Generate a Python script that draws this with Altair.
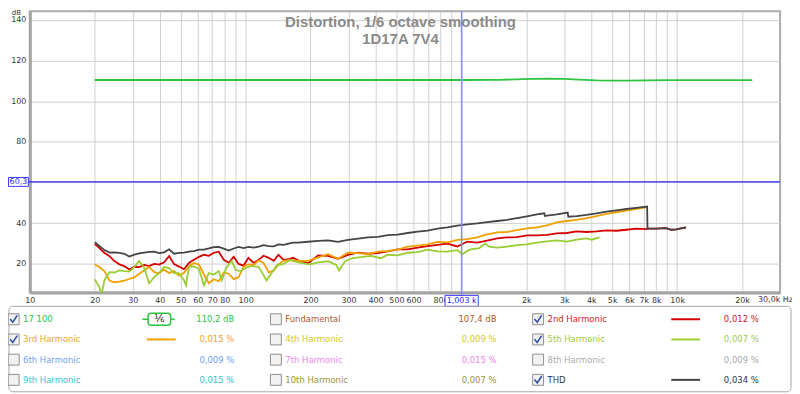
import altair as alt
import pandas as pd

# ---------------- data ----------------
FUND_F = [20, 50, 100, 300, 1000, 1500, 2100, 2500, 2985, 3500, 4233, 5000, 6000, 7200, 9000, 12000, 16000, 22300]
FUND_DB = [110.4, 110.4, 110.4, 110.4, 110.4, 110.5, 110.9, 111.0, 110.9, 110.6, 110.2, 110.1, 110.1, 110.2, 110.3, 110.3, 110.3, 110.3]

LOW_F = [20, 21, 22.2, 23.4, 24.6, 26, 27.4, 28.9, 30.5, 32.1, 33.9, 35.7, 37.7, 39.7, 41.9, 44.2, 46.6, 49.1,
         51.8, 54.6, 57.6, 60.8, 64.1, 67.5, 71.2, 75.1, 79.2, 83.5, 88, 92.8, 97.9, 103, 109, 115, 121, 128,
         135, 142, 150, 158, 166, 175]
MID_F = [195, 217, 241, 268, 298, 332, 369, 410, 456, 507, 564, 627, 697, 775, 862, 958, 1065, 1185, 1317,
         1465, 1629, 1811, 2014, 2239]

THD_F = LOW_F + MID_F + [2420, 2440, 2490, 2769, 3110, 3130, 3424, 3807, 4233, 4707, 5234, 5820, 6471, 7260,
                         7290, 8001, 8897, 9380, 9893, 11000]
THD_DB = [30.7, 28.8, 26.8, 25.6, 25.7, 25.4, 25.0, 23.6, 24.6, 25.2, 25.6, 25.9, 26.0, 25.3, 25.7, 27.2, 25.0,
          25.4, 25.6, 26.0, 26.3, 27.0, 27.0, 27.6, 28.3, 28.4, 27.5, 26.6, 27.6, 28.4, 27.8, 28.4, 28.0, 28.5,
          29.2, 28.8, 28.6, 29.6, 29.4, 30.0, 30.5, 30.5,
          30.9, 31.3, 31.6, 30.8, 31.8, 32.4, 33.0, 33.3, 34.2, 34.4, 35.2, 35.9, 36.4, 37.4, 38.0, 38.8, 39.4,
          39.9, 40.6, 41.1, 41.7, 42.5, 43.4, 44.3,
          44.9, 43.6, 43.7, 44.3, 45.2, 43.2, 43.5, 44.1, 44.9, 45.7, 46.3, 47.0, 47.6, 48.2, 37.4, 37.3, 37.6,
          36.8, 37.0, 38.0]

H2_F = LOW_F + MID_F + [2490, 2769, 3079, 3424, 3807, 4233, 4707, 5234, 5820, 6471, 7196, 7290, 8001, 8897,
                        9380, 9893, 11000]
H2_DB = [29.9, 27.8, 25.4, 23.8, 21.5, 19.8, 18.9, 17.3, 18.6, 18.4, 19.5, 18.9, 20.0, 19.7, 20.8, 23.9, 19.9,
         18.7, 17.4, 20.5, 22.0, 23.5, 24.5, 24.0, 25.5, 26.0, 22.0, 20.6, 23.5, 20.0, 19.2, 23.0, 20.5, 22.0,
         24.0, 23.0, 21.5, 24.5, 22.0, 22.3, 23.0, 21.8,
         20.3, 24.2, 24.0, 22.5, 24.4, 25.6, 25.0, 25.3, 26.2, 27.2, 27.2, 28.0, 28.8, 29.4, 30.0, 28.6, 31.0,
         30.5, 31.5, 32.6, 33.0, 33.2, 34.0, 34.0,
         34.3, 35.0, 35.2, 36.0, 35.7, 36.0, 36.5, 36.3, 36.8, 37.3, 37.1, 37.4, 37.3, 37.6, 36.8, 37.0, 38.0]

H3_F = LOW_F + MID_F + [2490, 2769, 3079, 3424, 3807, 4233, 4707, 5234, 5820, 6471, 7260]
H3_DB = [19.7, 18.5, 16.4, 11.8, 11.0, 11.3, 11.8, 12.6, 13.4, 15.2, 16.8, 18.5, 16.0, 15.4, 17.2, 15.6, 16.5,
         14.2, 15.6, 18.9, 20.5, 19.7, 14.8, 10.5, 12.5, 11.5, 15.8, 15.2, 12.5, 13.5, 18.8, 19.8, 19.5, 21.8,
         20.5, 15.8, 16.8, 19.8, 21.5, 21.8, 21.8, 21.5,
         21.5, 23.2, 24.8, 22.5, 25.5, 25.3, 24.8, 26.0, 26.3, 27.0, 28.5, 29.0, 29.6, 30.8, 30.6, 31.8, 32.2,
         33.0, 34.5, 35.5, 35.7, 36.6, 37.5, 38.0,
         39.0, 40.4, 41.1, 41.6, 42.5, 43.5, 44.6, 45.4, 46.2, 47.0, 47.9]

H5_F = [20, 21, 21.5, 22.2, 23.4, 24.6, 26, 27.4, 28.9, 30.5, 32.1, 33.9, 35.7, 37.7, 39.7, 41.9, 44.2, 46.6,
        49.1, 51.8, 52.9, 54.6, 57.6, 60.8, 64.1, 67.5, 71.2, 75.1, 77.5, 81.8, 86.2, 90.0, 94.8, 100, 106.6,
        115, 121, 125, 132, 139, 150, 161, 172, 185, 199, 217, 241, 263, 271, 289, 315, 342, 381, 423, 456, 507,
        564, 627, 697, 775, 862, 958, 1011, 1089, 1211, 1290, 1346, 1465, 1629, 1811, 2014, 2239, 2490, 2769,
        3079, 3424, 3807, 4015, 4370]
H5_DB = [12.4, 8.5, 5.0, 12.3, 16.0, 15.8, 16.8, 16.5, 16.2, 18.5, 21.5, 18.0, 10.5, 13.5, 15.5, 18.5, 18.0,
         15.5, 15.5, 12.0, 9.5, 18.5, 18.8, 17.5, 9.5, 15.5, 14.8, 16.5, 12.0, 18.5, 21.5, 17.0, 16.5, 18.0,
         19.0, 18.5, 14.5, 11.8, 15.5, 19.2, 20.0, 22.0, 21.0, 20.3, 19.8, 20.8, 21.3, 19.5, 16.8, 21.3, 22.9,
         23.3, 24.0, 22.8, 24.5, 24.2, 25.5, 25.8, 27.0, 26.2, 26.0, 26.8, 24.8, 27.0, 27.8, 30.0, 28.5, 28.0,
         28.5, 29.2, 29.6, 30.5, 31.1, 31.6, 31.0, 31.9, 32.6, 31.9, 33.0]

CURSOR_F = 1003
CURSOR_DB = 60.3
CURSOR_F_LABEL = "1,003 k"
CURSOR_DB_LABEL = "60,3"

TITLE = ["Distortion, 1/6 octave smoothing", "1D17A 7V4"]

GRID_F = [10, 20, 30, 40, 50, 60, 70, 80, 90, 100, 200, 300, 400, 500, 600, 700, 800, 900, 1000,
          2000, 3000, 4000, 5000, 6000, 7000, 8000, 9000, 10000, 20000]
X_LABELS = [(10, "10"), (20, "20"), (30, "30"), (40, "40"), (50, "50"), (60, "60"), (70, "70"), (80, "80"),
            (100, "100"), (200, "200"), (300, "300"), (400, "400"), (500, "500"), (600, "600"), (800, "800"),
            (2000, "2k"), (3000, "3k"), (4000, "4k"), (5000, "5k"), (6000, "6k"), (7000, "7k"), (8000, "8k"),
            (10000, "10k"), (20000, "20k")]
X_END_LABEL = (30000, "30,0k Hz")
Y_TICKS = [20, 40, 60, 80, 100, 120, 140]

LEGEND_LABELS = ["17 100", "Fundamental", "2nd Harmonic", "3rd Harmonic", "4th Harmonic", "5th Harmonic",
                 "6th Harmonic", "7th Harmonic", "8th Harmonic", "9th Harmonic", "10th Harmonic", "THD"]
LEGEND_VALUES = ["110,2 dB", "107,4 dB", "0,012 %", "0,015 %", "0,009 %", "0,007 %", "0,009 %", "0,015 %",
                 "0,009 %", "0,015 %", "0,007 %", "0,034 %"]
LEGEND_TEXT_COLORS = ["#2ec13e", "#a8582e", "#d01818", "#f0a030", "#d2c81a", "#9ccc3c", "#6e9ff0", "#ee86ee",
                      "#a8a8a8", "#35c4d0", "#9c9432", "#333333"]
LEGEND_CHECKED = [True, False, True, True, False, True, False, False, False, False, False, True]
LEGEND_LINES = ["", "", "#d40000", "#f0a000", "", "#9acd32", "", "", "", "", "", "#454545"]
LEGEND_BADGE = ["⅙", "", "", "", "", "", "", "", "", "", "", ""]

COL_FUND = "#2ec440"
COL_H2 = "#d40000"
COL_H3 = "#f0a000"
COL_H5 = "#9acd32"
COL_THD = "#454545"

# ---------------- layout ----------------
W, H = 755, 283
FONT = "DejaVu Sans"

xs = alt.Scale(type="log", domain=[10, 30000], nice=False)
ys = alt.Scale(domain=[6, 144.2], nice=False, zero=False)

x_expr = " : ".join(f"datum.value == {v} ? '{t}'" for v, t in X_LABELS) + " : ''"
common_axis = dict(title=None, grid=True, gridColor="#d0d0d0", gridWidth=1, ticks=False, tickSize=0,
                   labelFont=FONT, labelFontSize=8, labelColor="#333333", domainColor="#a4a4a4",
                   domainWidth=3, labelOverlap=False)
xaxis = alt.Axis(values=GRID_F, labelExpr=x_expr, labelPadding=4, labelFlush=False, **common_axis)
yaxis = alt.Axis(values=Y_TICKS, labelExpr="datum.value == 60 ? '' : datum.label", labelPadding=4,
                 **common_axis)

X = lambda f: alt.X(f, scale=xs, axis=xaxis)
Y = lambda f: alt.Y(f, scale=ys, axis=yaxis)


def curve(fs, dbs, color, width=1.8):
    df = pd.DataFrame({"f": fs, "db": dbs})
    return alt.Chart(df).mark_line(color=color, strokeWidth=width, clip=True).encode(
        x=X("f:Q"), y=Y("db:Q"))


cur = pd.DataFrame({"f": [CURSOR_F], "db": [CURSOR_DB], "flab": [CURSOR_F_LABEL], "dlab": [CURSOR_DB_LABEL]})

vline = alt.Chart(cur).mark_rule(color="#8a8aff", strokeWidth=1.6).encode(
    x=X("f:Q"), y=alt.value(0), y2=alt.value(H + 3))
hline = alt.Chart(cur).mark_rule(color="#2424ee", strokeWidth=1.2).encode(
    y=Y("db:Q"), x=alt.value(-2), x2=alt.value(W))

fbox = alt.Chart(cur).mark_point(shape="M-1,-0.33H1V0.33H-1Z", size=1115, filled=True, fill="white",
                                 stroke="#3a3aff", strokeWidth=1, opacity=1).encode(
    x=X("f:Q"), y=alt.value(H + 8.5))
ftxt = alt.Chart(cur).mark_text(font=FONT, fontSize=8, color="#2020ff", baseline="middle").encode(
    x=X("f:Q"), y=alt.value(H + 9), text="flab:N")
dbox = alt.Chart(cur).mark_point(shape="M-1,-0.45H1V0.45H-1Z", size=400, filled=True, fill="white",
                                 stroke="#3a3aff", strokeWidth=1, opacity=1).encode(
    y=Y("db:Q"), x=alt.value(-11.5))
dtxt = alt.Chart(cur).mark_text(font=FONT, fontSize=8, color="#2020ff", baseline="middle").encode(
    y=Y("db:Q"), x=alt.value(-11.5), text="dlab:N")

title_df = pd.DataFrame({"t": ["\n".join(TITLE)]})
title = alt.Chart(title_df).mark_text(font="Liberation Sans", fontSize=15, fontWeight="bold",
                                      color="#8a8a8a", align="center", baseline="alphabetic",
                                      lineBreak="\n", lineHeight=17.5).encode(
    x=alt.value(373), y=alt.value(16), text="t:N")

unit_df = pd.DataFrame({"t": ["dB"]})
db_unit = alt.Chart(unit_df).mark_text(font=FONT, fontSize=7, color="#333333", baseline="middle").encode(
    x=alt.value(-13.5), y=alt.value(1.5), text="t:N")

end_df = pd.DataFrame({"f": [X_END_LABEL[0]], "t": [X_END_LABEL[1]]})
end_lab = alt.Chart(end_df).mark_text(font=FONT, fontSize=8, color="#333333", align="right",
                                      baseline="top", dx=13).encode(
    x=X("f:Q"), y=alt.value(H + 4), text="t:N")

plot = alt.layer(
    curve(FUND_F, FUND_DB, COL_FUND),
    curve(H2_F, H2_DB, COL_H2),
    curve(H3_F, H3_DB, COL_H3),
    curve(H5_F, H5_DB, COL_H5),
    curve(THD_F, THD_DB, COL_THD),
    vline, hline, title, db_unit, end_lab, fbox, ftxt, dbox, dtxt,
)

# ---------------- legend ----------------
n = len(LEGEND_LABELS)
leg = pd.DataFrame({
    "label": LEGEND_LABELS, "value": LEGEND_VALUES, "tcol": LEGEND_TEXT_COLORS,
    "checked": LEGEND_CHECKED, "line": LEGEND_LINES, "badge": LEGEND_BADGE,
    "col": [i % 3 for i in range(n)], "row": [i // 3 for i in range(n)],
})
LX = alt.X("col:Q", scale=alt.Scale(domain=[0, 2], range=[-16.3, 511.5], nice=False, zero=False), axis=None)
LY = alt.Y("row:Q", scale=alt.Scale(domain=[0, 3], range=[310, 371], nice=False, zero=False), axis=None)

frame_df = pd.DataFrame({"k": [0]})
leg_frame = alt.Chart(frame_df).mark_rect(fillOpacity=0, stroke="#a6a6a6", strokeWidth=1, cornerRadius=4).encode(
    x=alt.value(-21), x2=alt.value(766), y=alt.value(297), y2=alt.value(383))

boxes = alt.Chart(leg).mark_point(shape="square", size=121, filled=True, fill="#f1f1f1", stroke="#8e8e8e",
                                  strokeWidth=1, opacity=1).encode(x=LX, y=LY)
checks = alt.Chart(leg).transform_filter("datum.checked").mark_point(
    shape="M-0.6,-0.05L-0.15,0.5L0.6,-0.65", size=144, filled=False, stroke="#3152a6", strokeWidth=1.6,
    opacity=1).encode(x=LX, y=LY)
labels = alt.Chart(leg).mark_text(align="left", baseline="middle", dx=9.5, font=FONT, fontSize=8.5).encode(
    x=LX, y=LY, text="label:N", color=alt.Color("tcol:N", scale=None))
values = alt.Chart(leg).mark_text(align="right", baseline="middle", dx=222, font=FONT, fontSize=8.5).encode(
    x=LX, y=LY, text="value:N", color=alt.Color("tcol:N", scale=None))
samples = alt.Chart(leg).transform_filter("datum.line != ''").mark_rule(
    strokeWidth=2, xOffset=134, x2Offset=163).encode(
    x=LX, x2=alt.X2("col:Q"), y=LY, color=alt.Color("line:N", scale=None))

badge_base = alt.Chart(leg).transform_filter("datum.badge != ''")
badge_tail = badge_base.mark_rule(strokeWidth=1.5, color=COL_FUND, xOffset=129.6, x2Offset=162).encode(
    x=LX, x2=alt.X2("col:Q"), y=LY)
badge_box = badge_base.mark_rect(fill="white", stroke=COL_FUND, strokeWidth=1.5, cornerRadius=3,
                                 xOffset=135.3, x2Offset=158, yOffset=-6, y2Offset=6).encode(
    x=LX, x2=alt.X2("col:Q"), y=LY, y2=alt.Y2("row:Q"))
badge_txt = badge_base.mark_text(dx=146.6, baseline="middle", font=FONT, fontSize=10.5, color="#111111").encode(
    x=LX, y=LY, text="badge:N")

legend = alt.layer(leg_frame, boxes, checks, labels, values, samples, badge_tail, badge_box, badge_txt)

chart = alt.layer(plot, legend).resolve_scale(x="independent", y="independent").properties(
    width=W, height=H,
    padding={"left": 22, "top": 2, "right": 12, "bottom": 101},
    autosize=alt.AutoSizeParams(type="none"),
    background="white",
).configure_view(stroke="#ababab", strokeWidth=2)

chart.save("out.html", embed_options={"renderer": "svg", "actions": False})
